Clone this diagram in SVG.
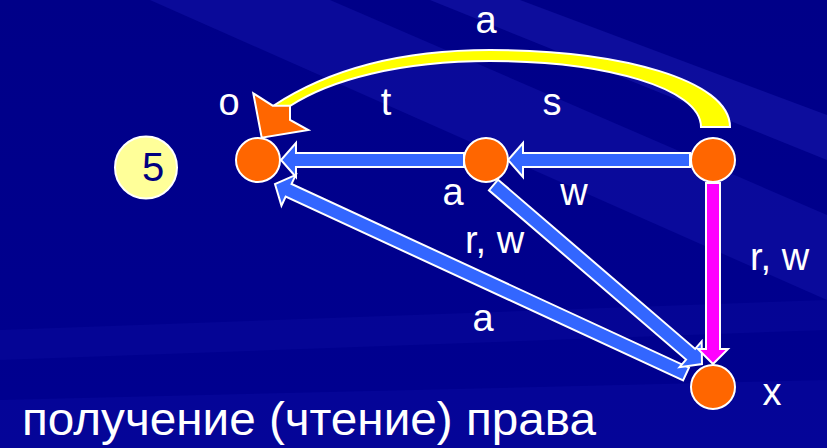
<svg xmlns="http://www.w3.org/2000/svg" width="827" height="448" viewBox="0 0 827 448">
<defs>
<linearGradient id="bg" x1="0" y1="0" x2="0" y2="1">
<stop offset="0" stop-color="#000088"/>
<stop offset="1" stop-color="#000090"/>
</linearGradient>
<style>
.lbl{font-family:"Liberation Sans",Arial,sans-serif;font-size:38px;fill:#ffffff}
.node{fill:#FF6600;stroke:#ffffff;stroke-width:2}
.blue{fill:#3366FF;stroke:#ffffff;stroke-width:2;stroke-linejoin:miter}
.mag{fill:#FF00FF;stroke:#ffffff;stroke-width:2;stroke-linejoin:miter}
</style>
</defs>
<rect x="0" y="0" width="827" height="448" fill="url(#bg)"/>
<g opacity="0.5">
<polygon points="150,0 330,0 827,215 827,300" fill="#1414aa"/>
<polygon points="430,0 520,0 827,115 827,160" fill="#1a1ab0"/>
<polygon points="0,330 827,300 827,330 0,360" fill="#0a0a9c"/>
<polygon points="0,400 827,380 827,448 0,448" fill="#0a0aa0"/>
</g>

<g id="connectors">
<g id="yellow-arc">
<path d="M 730,127 C 730,80 620,50 490,50 C 390,50 320,75 273,106 L 290,106 C 330,80 400,61 490,61 C 605,61 701,88 701,127 Z" fill="#FFFF00" stroke="#ffffff" stroke-width="2"/>
<polygon points="253.3,93.3 272.7,105.7 290,105.7 290,120 308.3,130 261.7,137.7" fill="#FF6600" stroke="#ffffff" stroke-width="2" stroke-linejoin="miter"/>
</g>
<polygon class="blue" transform="translate(686,374) rotate(204.81)" points="0,-7 437.8,-7 437.8,-17 452.8,0 437.8,17 437.8,7 0,7"/>
<polygon class="blue" transform="translate(493.5,185) rotate(40.65)" points="0,-7 259.8,-7 259.8,-17 274.8,0 259.8,17 259.8,7 0,7"/>
<polygon class="blue" transform="translate(464,160) rotate(180)" points="0,-7 168,-7 168,-17 183,0 168,17 168,7 0,7"/>
<polygon class="blue" transform="translate(690,160) rotate(180)" points="0,-7 167,-7 167,-17 182,0 167,17 167,7 0,7"/>
<polygon class="mag" transform="translate(713,183) rotate(90)" points="0,-7 166,-7 166,-15 181,0 166,15 166,7 0,7"/>
</g>

<g id="node-o"><circle class="node" cx="258" cy="160" r="22"/></g>
<g id="node-mid"><circle class="node" cx="486" cy="160" r="22"/></g>
<g id="node-right"><circle class="node" cx="713" cy="160" r="22"/></g>
<g id="node-x"><circle class="node" cx="713" cy="387" r="22"/></g>
<g id="step-5">
<circle cx="146" cy="167.5" r="31" fill="#FFFF99" stroke="#ffffff" stroke-width="2"/>
<text x="153" y="181" text-anchor="middle" style="font-family:'Liberation Sans',Arial,sans-serif;font-size:40px;fill:#000080">5</text>
</g>

<g id="labels">
<text class="lbl" x="486" y="33" text-anchor="middle">a</text>
<text class="lbl" x="229" y="115" text-anchor="middle">o</text>
<text class="lbl" x="386" y="115" text-anchor="middle">t</text>
<text class="lbl" x="552" y="115" text-anchor="middle">s</text>
<text class="lbl" x="453" y="205" text-anchor="middle">a</text>
<text class="lbl" x="574" y="205" text-anchor="middle">w</text>
<text class="lbl" x="465" y="253">r, w</text>
<text class="lbl" x="750" y="270">r, w</text>
<text class="lbl" x="483" y="331" text-anchor="middle">a</text>
<text class="lbl" x="772" y="405" text-anchor="middle">x</text>
<text class="lbl" x="22" y="435" style="font-size:46px" textLength="574" lengthAdjust="spacingAndGlyphs">получение (чтение) права</text>
</g>
</svg>
